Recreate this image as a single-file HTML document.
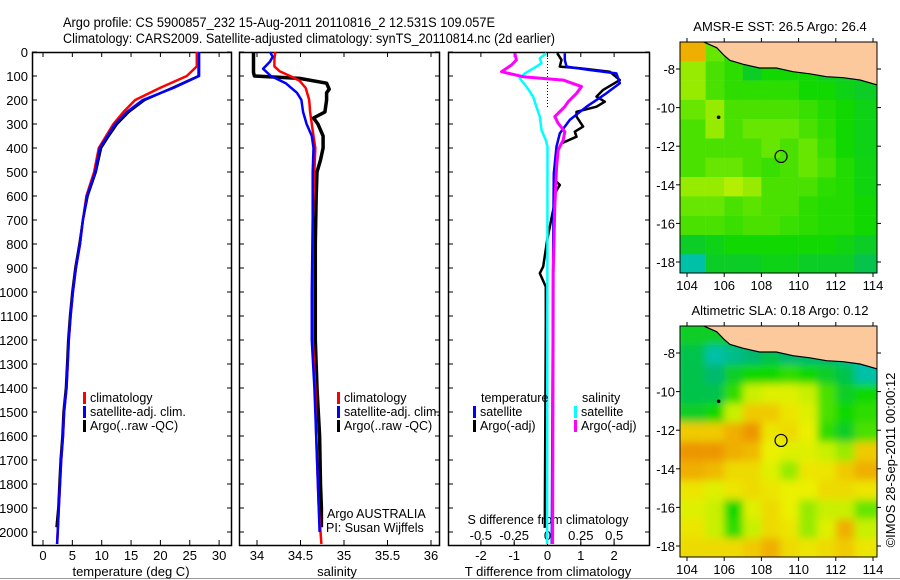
<!DOCTYPE html>
<html><head><meta charset="utf-8"><style>
html,body{margin:0;padding:0;background:#fff;}
svg{display:block;font-family:"Liberation Sans",sans-serif;}
</style></head><body>
<svg id="c" width="900" height="580" viewBox="0 0 900 580" xmlns="http://www.w3.org/2000/svg">
<line x1="0" y1="578.5" x2="900" y2="578.5" stroke="#999" stroke-width="1"/>
<text x="63" y="27" font-size="13.5" textLength="432" lengthAdjust="spacingAndGlyphs">Argo profile: CS 5900857_232 15-Aug-2011 20110816_2 12.531S 109.057E</text>
<text x="63" y="43" font-size="13.5" textLength="492" lengthAdjust="spacingAndGlyphs">Climatology: CARS2009. Satellite-adjusted climatology: synTS_20110814.nc (2d earlier)</text>
<g id="g"></g>
</svg>
<script>
// ---------- data ----------
const depthTicks=[0,100,200,300,400,500,600,700,800,900,1000,1100,1200,1300,1400,1500,1600,1700,1800,1900,2000];
const tempTicks=[0,5,10,15,20,25,30];
const salTicks=[34,34.5,35,35.5,36];
const salTickLabels=["34","34.5","35","35.5","36"];
const tdiffTicks=[-2,-1,0,1,2];
const sdiffTicks=[-0.5,-0.25,0,0.25,0.5];
const sdiffTickLabels=["-0.5","-0.25","0","0.25","0.5"];

const tDepth=[0,100,150,200,250,300,400,500,600,700,800,900,1000,1100,1200,1300,1400,1500,1600,1700,1800,1900,2000,2050];
const tSat=[26.6,26.6,22.2,17.0,14.3,12.3,9.7,8.9,7.5,6.8,6.3,5.6,5.1,4.7,4.4,4.2,4.0,3.6,3.4,3.1,2.9,2.7,2.5,2.4];
const tClimDepth=[0,60,100,150,200,250,300,400,500,600,700,800,900,1000,1100,1200,1300,1400,1500,1600,1700,1800,1900,2000,2050];
const tClim=[26.2,26.2,24.5,19.9,15.7,13.7,12.0,9.5,8.7,7.4,6.8,6.3,5.6,5.1,4.7,4.4,4.2,4.0,3.6,3.4,3.1,2.9,2.7,2.5,2.4];
const tArgoDepth=[0,100,150,200,250,300,350,400,500,600,700,800,900,1000,1100,1200,1300,1400,1500,1600,1700,1800,1900,1980];
const tArgo=[26.5,26.5,22.0,17.3,14.6,12.6,11.2,9.9,9.0,7.6,6.8,6.2,5.5,5.0,4.6,4.3,4.1,3.9,3.5,3.3,3.0,2.8,2.6,2.3];

const sClimDepth=[0,30,60,80,100,120,150,200,250,300,350,400,500,700,1000,1200,1400,1600,1800,1900,2050];
const sClim=[34.21,34.20,34.20,34.26,34.38,34.49,34.56,34.60,34.61,34.63,34.65,34.67,34.66,34.64,34.64,34.64,34.67,34.68,34.70,34.71,34.74];
const sSatDepth=[0,20,40,70,100,130,170,200,250,300,350,400,500,700,1000,1200,1400,1600,1800,2000];
const sSat=[34.15,34.18,34.15,34.07,34.16,34.33,34.46,34.51,34.53,34.57,34.63,34.65,34.64,34.64,34.63,34.63,34.66,34.68,34.70,34.72];
const sArgoDepth=[0,85,100,110,130,155,170,200,250,275,300,350,400,450,500,600,800,1000,1200,1400,1600,1800,1900,1980];
const sArgo=[33.96,33.96,33.97,34.49,34.80,34.83,34.80,34.80,34.78,34.65,34.70,34.76,34.76,34.73,34.69,34.68,34.67,34.67,34.67,34.69,34.72,34.73,34.74,34.74];

const dTSatDepth=[5,33,61,75,89,130,172,228,283,339,394,506,800,2050];
const dTSat=[0.52,0.52,0.57,1.27,2.07,2.17,1.77,1.17,0.67,0.37,0.27,0.19,0.17,0.13];
const dTArgoDepth=[5,33,61,68,82,117,158,186,207,228,249,269,311,332,353,381,422,533,554,589,645,783,894,922,978,1130,1983];
const dTArgo=[0.29,0.42,0.37,0.97,1.87,2.17,1.67,1.47,1.72,1.47,0.87,0.87,1.07,0.82,0.87,0.42,0.27,0.22,0.37,0.22,0.19,-0.01,-0.13,-0.23,-0.05,-0.05,-0.08];
const dSSatDepth=[5,26,47,61,89,110,144,186,228,269,325,367,394,2050];
const dSSat=[-0.008,-0.058,-0.045,-0.083,-0.17,-0.208,-0.158,-0.108,-0.083,-0.058,-0.045,-0.013,0,-0.003];
const dSArgoDepth=[5,33,54,82,103,117,144,172,207,228,269,297,332,367,408,478,645,922,2050];
const dSArgo=[-0.245,-0.233,-0.27,-0.345,-0.183,0.118,0.255,0.218,0.155,0.13,0.055,0.08,0.13,0.118,0.08,0.068,0.055,0.043,0.038];

const mapLonTicks=[104,106,108,110,112,114];
const mapLatTicks=[-8,-10,-12,-14,-16,-18];
const sstGrid=[
[0.8,0.5,0.4,0.4,0.4,0.4,0.4,0.4,0.4,0.4],
[0.55,0.45,0.4,0.3,0.35,0.35,0.35,0.3,0.3,0.3],
[0.55,0.45,0.4,0.4,0.4,0.4,0.35,0.35,0.32,0.3],
[0.5,0.55,0.45,0.45,0.45,0.45,0.42,0.38,0.35,0.32],
[0.45,0.55,0.45,0.5,0.5,0.5,0.45,0.4,0.35,0.32],
[0.45,0.45,0.45,0.45,0.5,0.45,0.5,0.42,0.35,0.32],
[0.45,0.5,0.5,0.45,0.42,0.45,0.5,0.45,0.38,0.33],
[0.55,0.55,0.58,0.55,0.45,0.45,0.45,0.4,0.38,0.33],
[0.5,0.5,0.45,0.48,0.45,0.45,0.4,0.38,0.38,0.35],
[0.45,0.45,0.42,0.45,0.45,0.42,0.4,0.38,0.38,0.35],
[0.3,0.32,0.35,0.35,0.35,0.35,0.35,0.35,0.33,0.3],
[0.1,0.3,0.3,0.3,0.32,0.32,0.3,0.3,0.3,0.25]];
const slaGrid=[
[0.3,0.3,0.3,0.3,0.3,0.3,0.3,0.3,0.3,0.3],
[0.25,0.1,0.15,0.2,0.25,0.2,0.2,0.2,0.15,0.1],
[0.25,0.2,0.3,0.35,0.35,0.4,0.35,0.3,0.25,0.1],
[0.25,0.25,0.4,0.6,0.65,0.65,0.6,0.45,0.3,0.35],
[0.3,0.35,0.6,0.75,0.75,0.7,0.65,0.45,0.35,0.4],
[0.75,0.75,0.8,0.85,0.7,0.72,0.68,0.4,0.3,0.45],
[0.85,0.85,0.8,0.78,0.68,0.65,0.65,0.6,0.55,0.75],
[0.8,0.78,0.72,0.72,0.65,0.55,0.7,0.7,0.75,0.8],
[0.7,0.65,0.7,0.72,0.7,0.68,0.68,0.72,0.72,0.7],
[0.65,0.6,0.35,0.65,0.72,0.68,0.55,0.6,0.6,0.5],
[0.7,0.6,0.4,0.6,0.72,0.7,0.55,0.65,0.8,0.6],
[0.72,0.72,0.72,0.75,0.8,0.72,0.7,0.72,0.75,0.7]];
const coastLon=[104.9,105.6,106.0,106.3,107.0,107.9,108.8,109.7,110.6,111.5,112.4,113.3,114.3];
const coastLat=[-6.6,-6.9,-7.3,-7.55,-7.75,-7.95,-7.95,-8.14,-8.25,-8.4,-8.45,-8.57,-8.85];
const argoLon=109.057, argoLat=-12.531;

// ---------- helpers ----------
const NS="http://www.w3.org/2000/svg";
const G=document.getElementById('g');
function el(tag,attrs,parent){const e=document.createElementNS(NS,tag);for(const k in attrs)e.setAttribute(k,attrs[k]);(parent||G).appendChild(e);return e;}
function txt(x,y,s,size,anchor,parent){const t=el('text',{x:x,y:y,'font-size':size||13,'text-anchor':anchor||'start'},parent);t.textContent=s;return t;}
const Y0=52, PY=0.24, YB=545;
const yD=d=>Y0+d*PY;
const xT=v=>43+(v)*5.87;
const xS=v=>257+(v-34)*87;
const xDT=v=>547.5+v*33.3;
const xDS=v=>547.5+v*133.3;
function line(xs,ds,fx,color,w,name){
  let p='';for(let i=0;i<xs.length;i++)p+=(i?'L':'M')+fx(xs[i]).toFixed(1)+','+yD(ds[i]).toFixed(1);
  const e=el('path',{d:p,fill:'none',stroke:color,'stroke-width':w,'stroke-linejoin':'round'});
  
  
}
function panel(x0,x1,name){
  const r=el('rect',{x:x0+.5,y:Y0+.5,width:x1-x0,height:YB-Y0,fill:'none',stroke:'#000','stroke-width':1.5});
  
  
  depthTicks.forEach(d=>{el('line',{x1:x0,y1:yD(d),x2:x0+5,y2:yD(d),stroke:'#000'});el('line',{x1:x1-4,y1:yD(d),x2:x1+1,y2:yD(d),stroke:'#000'});});
}
function xticks(vals,labels,fx,ylab,name){
  vals.forEach((v,i)=>{const x=fx(v);
    el('line',{x1:x,y1:YB,x2:x,y2:YB-5,stroke:'#000'});el('line',{x1:x,y1:Y0,x2:x,y2:Y0+5,stroke:'#000'});
    const t=txt(x,ylab,labels?labels[i]:String(v),13,'middle');
    
    });
}
function legend(x,y,items){
  items.forEach((it,i)=>{el('rect',{x:x,y:y+i*14-10,width:3,height:12,fill:it[0]});
    const t=txt(x+7,y+i*14,it[1],12.5);
    
    });
}

// ---------- panel 1: temperature ----------
panel(32,231,'temperature-panel');
depthTicks.forEach(d=>{const t=txt(28,yD(d)+5,String(d),13,'end');
  
  });
xticks(tempTicks,null,xT,560,'temperature-tick-label');
let t1=txt(131,576,'temperature (deg C)',13,'middle');
line(tArgo,tArgoDepth,xT,'#000',2.5,'argo-temperature-line');
line(tClim,tClimDepth,xT,'#f00',2.5,'clim-temperature-line');
line(tSat,tDepth,xT,'#00f',2.5,'sat-temperature-line');
legend(83,402,[['#f00','climatology'],['#00f','satellite-adj. clim.'],['#000','Argo(..raw -QC)']]);

// ---------- panel 2: salinity ----------
panel(239,439,'salinity-panel');
xticks(salTicks,salTickLabels,xS,560,'salinity-tick-label');
let t2=txt(337,576,'salinity',13,'middle');
line(sArgo,sArgoDepth,xS,'#000',3.5,'argo-salinity-line');
line(sClim,sClimDepth,xS,'#f00',2.5,'clim-salinity-line');
line(sSat,sSatDepth,xS,'#00f',2.5,'sat-salinity-line');
legend(337,402,[['#f00','climatology'],['#00f','satellite-adj. clim.'],['#000','Argo(..raw -QC)']]);
txt(327,518,'Argo AUSTRALIA',12.5);
txt(326,532,'PI: Susan Wijffels',12.5);

// ---------- panel 3: differences ----------
panel(448,649,'difference-panel');
el('line',{x1:547.5,y1:Y0,x2:547.5,y2:yD(230),stroke:'#000','stroke-dasharray':'1,2'});
xticks(tdiffTicks,null,xDT,560,'tdiff-tick-label');
sdiffTicks.forEach((v,i)=>{const x=xDS(v);el('line',{x1:x,y1:YB,x2:x,y2:YB-3,stroke:'#000'});
  const t=txt(x,540,sdiffTickLabels[i],13,'middle');});
txt(548,524,'S difference from climatology',12.5,'middle');
let t3=txt(548,576,'T difference from climatology',13,'middle');
line(dTArgo,dTArgoDepth,xDT,'#000',2.5,'argo-tdiff-line');
line(dTSat,dTSatDepth,xDT,'#00f',2.5,'sat-tdiff-line');
line(dSSat,dSSatDepth,xDS,'#0ff',2.5,'sat-sdiff-line');
line(dSArgo,dSArgoDepth,xDS,'#f0f',3,'argo-sdiff-line');
txt(481,402,'temperature',12.5);
legend(473,416,[['#00f','satellite'],['#000','Argo(-adj)']]);
txt(582,402,'salinity',12.5);
legend(574,416,[['#0ff','satellite'],['#f0f','Argo(-adj)']]);

// ---------- maps ----------
const stops=[[0,[0,200,224]],[0.2,[0,184,112]],[0.35,[17,216,0]],[0.5,[102,230,0]],[0.6,[200,240,0]],[0.68,[235,240,0]],[0.78,[240,185,0]],[0.88,[235,135,0]],[1,[224,100,0]]];
function cmap(v){for(let i=1;i<stops.length;i++){if(v<=stops[i][0]){const a=stops[i-1],b=stops[i],f=(v-a[0])/(b[0]-a[0]);
  return 'rgb('+a[1].map((c,k)=>Math.round(c+(b[1][k]-c)*f)).join(',')+')';}}return 'rgb(224,100,0)';}
const defs=el('defs',{});
const flt=el('filter',{id:'bl',x:'-5%',y:'-5%',width:'110%',height:'110%'},defs);
el('feGaussianBlur',{stdDeviation:4},flt);
function map(top,grid,title,name,blur){
  const L=680,R=877,B=top+231;
  const lx=lon=>687+(lon-104)*18.6;
  const ly=lat=>top+27+(-8-lat)*19.3;
  const cp=el('clipPath',{id:'cp'+top},defs);el('rect',{x:L,y:top,width:R-L,height:B-top},cp);
  const g=el('g',{'clip-path':'url(#cp'+top+')'});
  
  
  const gg=el('g',blur?{filter:'url(#bl)'}:{},g);
  grid.forEach((row,r)=>row.forEach((v,c)=>{
    el('rect',{x:lx(104+c)-(c==0?12:0),y:ly(-6.6-r)-(r==0?8:0),width:18.8+(c==0?12:0)+(c==9?12:0),height:19.5+(r==0?8:0)+(r==11?12:0),fill:cmap(v)},gg);}));
  let p='M'+lx(coastLon[0])+','+(top-2);
  coastLon.forEach((lo,i)=>p+='L'+lx(lo).toFixed(1)+','+ly(coastLat[i]).toFixed(1));
  p+='L'+(R+2)+','+ly(-8.85)+'L'+(R+2)+','+(top-2)+'Z';
  el('path',{d:p,fill:'#fbc99c',stroke:'#000','stroke-width':1.2},g);
  el('circle',{cx:lx(105.7),cy:ly(-10.5),r:1.8,fill:'#000'},g);
  const mk=el('circle',{cx:lx(argoLon),cy:ly(argoLat),r:6,fill:'none',stroke:'#000','stroke-width':1.2},g);
  
  
  el('rect',{x:L,y:top,width:R-L,height:B-top,fill:'none',stroke:'#000'});
  mapLonTicks.forEach(lo=>{const x=lx(lo);el('line',{x1:x,y1:top,x2:x,y2:top-4,stroke:'#000'});el('line',{x1:x,y1:B,x2:x,y2:B+4,stroke:'#000'});
    const t=txt(x,B+17,String(lo),13,'middle');});
  mapLatTicks.forEach(la=>{const y=ly(la);el('line',{x1:L,y1:y,x2:L-4,y2:y,stroke:'#000'});el('line',{x1:R,y1:y,x2:R+4,y2:y,stroke:'#000'});
    const t=txt(675,y+5,String(la),13,'end');});
  const tt=txt(780,top-11,title,13,'middle');
}
map(42,sstGrid,'AMSR-E SST: 26.5 Argo: 26.4','sst-map',false);
map(326,slaGrid,'Altimetric SLA: 0.18 Argo: 0.12','sla-map',true);
const cr=txt(0,0,'©IMOS 28-Sep-2011 00:00:12',13,'middle');
cr.setAttribute('transform','translate(895,460) rotate(-90)');


</script>
</body></html>
